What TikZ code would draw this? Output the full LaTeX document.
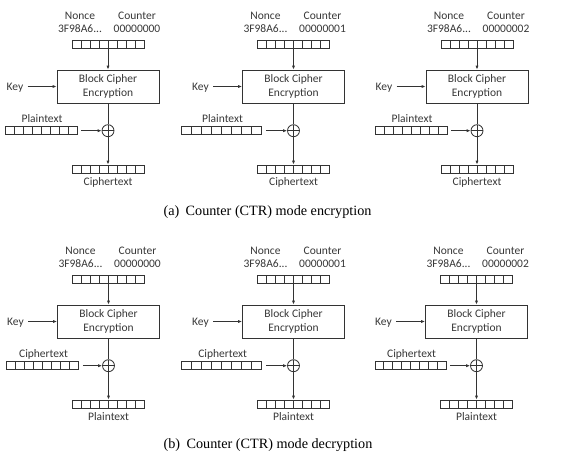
\documentclass[tikz,border=0pt]{standalone}
\usepackage{fontspec}
\setmainfont{Liberation Serif}
\newfontfamily\calfont{Carlito}
\usetikzlibrary{arrows.meta,calc}
\definecolor{txtc}{gray}{0.22}
\definecolor{linec}{gray}{0.2}
\tikzset{
  lbl/.style={font=\calfont\fontsize{11.5}{13.5}\selectfont, text=txtc, inner sep=0pt},
  reg/.style={draw=linec, line width=0.8pt, minimum height=8pt, inner sep=0pt,
    path picture={\foreach \i in {1,...,7}{\draw[linec, line width=0.8pt]
      ($(path picture bounding box.south west)!\i/8!(path picture bounding box.south east)$) --
      ($(path picture bounding box.north west)!\i/8!(path picture bounding box.north east)$);}}},
  cipherbox/.style={draw=linec, line width=0.8pt, minimum width=102pt, minimum height=33pt,
    align=center, font=\calfont\fontsize{11.5}{14}\selectfont, text=txtc, inner sep=0pt},
  xorc/.style={circle, draw=linec, line width=0.8pt, minimum size=12pt, inner sep=0pt,
    path picture={\draw[linec, line width=0.8pt]
      (path picture bounding box.north) -- (path picture bounding box.south)
      (path picture bounding box.west) -- (path picture bounding box.east);}},
  arr/.style={draw=linec, line width=0.8pt, -{Latex[length=4pt,width=3.2pt]}},
  plain/.style={draw=linec, line width=0.8pt},
  capt/.style={font=\fontsize{14.2}{16}\selectfont, anchor=base, inner sep=0pt},
}
% #1 cx, #2 dy, #3 counter value, #4 input label, #5 output label, #6 id,
% #7 input register centre x, #8 input register width
\newcommand\ctrpanel[8]{%
  \node[lbl, anchor=base] (n#6) at (#1-28, #2+19.4) {Nonce};
  \node[lbl, anchor=base] (c#6) at (#1+29, #2+19.4) {Counter};
  \node[lbl, anchor=base] (nv#6) at (#1-28, #2+32.8) {3F98A6...};
  \node[lbl, anchor=base] (cv#6) at (#1+29, #2+32.8) {#3};
  \node[reg, minimum width=72pt] (r#6) at (#1, #2+44.7) {};
  \node[cipherbox] (b#6) at (#1, #2+86.5) {Block Cipher\\Encryption};
  \node[lbl, anchor=base] (k#6) at (#1-93, #2+90.3) {Key};
  \node[xorc] (x#6) at (#1, #2+130.7) {};
  \node[lbl, anchor=base] (il#6) at (#7+1, #2+122.8) {#4};
  \node[reg, minimum width=#8pt] (ir#6) at (#7, #2+130.7) {};
  \node[reg, minimum width=72pt] (or#6) at (#1, #2+169) {};
  \node[lbl, anchor=base] (ol#6) at (#1, #2+185.5) {#5};
  \draw[arr] (r#6) -- (b#6);
  \draw[arr] ([xshift=4pt]k#6.east |- b#6.west) -- (b#6.west);
  \draw[plain] (b#6) -- (x#6);
  \draw[arr, shorten <=4pt] (ir#6) -- (x#6);
  \draw[arr] (x#6) -- (or#6);
}
\begin{document}
\begin{tikzpicture}[x=1pt, y=-1pt]
  \useasboundingbox[fill=white] (0,0) rectangle (571,471);
  \ctrpanel{108}{0}{00000000}{Plaintext}{Ciphertext}{e1}{41}{72}
  \ctrpanel{293.5}{0}{00000001}{Plaintext}{Ciphertext}{e2}{221.5}{80}
  \ctrpanel{477}{0}{00000002}{Plaintext}{Ciphertext}{e3}{411}{72}
  \node[capt] (capa) at (267.5, 215) {(a)\hspace{0.45em}Counter (CTR) mode encryption};
  \ctrpanel{108.5}{235}{00000000}{Ciphertext}{Plaintext}{d1}{42.5}{72}
  \ctrpanel{293.5}{235}{00000001}{Ciphertext}{Plaintext}{d2}{221.7}{80}
  \ctrpanel{476.5}{235}{00000002}{Ciphertext}{Plaintext}{d3}{410.5}{71}
  \node[capt] (capb) at (268, 448) {(b)\hspace{0.45em}Counter (CTR) mode decryption};
\end{tikzpicture}
\end{document}
